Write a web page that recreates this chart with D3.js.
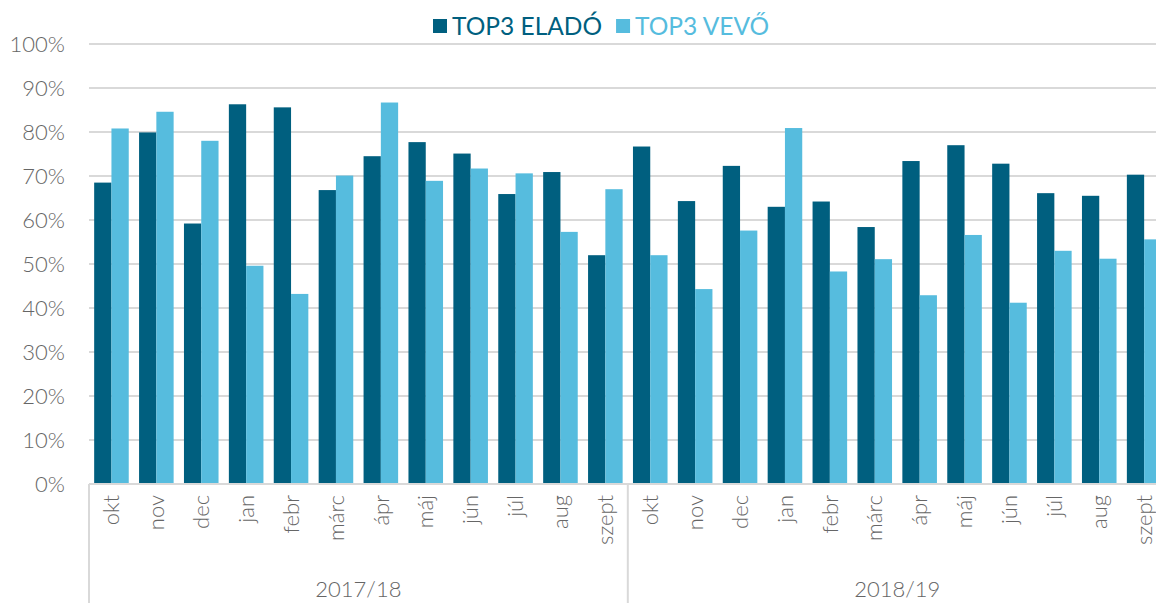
<!DOCTYPE html>
<html>
<head>
<meta charset="utf-8">
<script src="https://cdn.jsdelivr.net/npm/d3@7"></script>
<style>
  body { margin: 0; background: #fff; }
  text { font-family: Lato, 'Open Sans', sans-serif; }
</style>
</head>
<body>
<div id="chart"></div>
<script>
'use strict';

// Data
var months = ['okt', 'nov', 'dec', 'jan', 'febr', 'márc', 'ápr', 'máj', 'jún', 'júl', 'aug', 'szept'];
var years = ['2017/18', '2018/19'];
var seriesNames = ['TOP3 ELADÓ', 'TOP3 VEVŐ'];
var elado = [68.5, 79.9, 59.2, 86.3, 85.6, 66.8, 74.5, 77.7, 75.1, 65.9, 70.9, 52.0,
             76.7, 64.3, 72.3, 63.0, 64.2, 58.4, 73.4, 77.0, 72.8, 66.1, 65.5, 70.3];
var vevo = [80.8, 84.6, 78.0, 49.6, 43.2, 70.1, 86.7, 68.9, 71.7, 70.6, 57.3, 67.0,
            52.0, 44.3, 57.6, 80.9, 48.3, 51.1, 42.9, 56.6, 41.2, 53.0, 51.2, 55.6];
var yTicks = [0, 10, 20, 30, 40, 50, 60, 70, 80, 90, 100];

(function () {
  var width = 1156,
    height = 603,
    colors = ['#005f7f', '#56bcde'],
    plotLeft = 89,
    plotTop = 44,
    plotBottom = 484,
    band = 44.9;

  var cats = [];
  years.forEach(function (yr) {
    months.forEach(function (m) { cats.push(yr + '|' + m); });
  });

  var data = cats.map(function (c, i) {
    return {key: c, month: c.split('|')[1], values: [elado[i], vevo[i]]};
  });

  var x = d3.scaleBand()
    .domain(cats)
    .range([plotLeft, plotLeft + band * cats.length])
    .paddingInner(0.23)
    .paddingOuter(0.115);

  var xSub = d3.scaleBand()
    .domain([0, 1])
    .range([0, x.bandwidth()]);

  var y = d3.scaleLinear()
    .domain([0, 100])
    .range([plotBottom, plotTop]);

  var svg = d3.select('#chart').append('svg')
    .attr('width', width)
    .attr('height', height);

  // Gridlines
  svg.append('g')
    .selectAll('line')
    .data(yTicks.slice(1))
    .enter().append('line')
    .attr('x1', plotLeft)
    .attr('x2', width)
    .attr('y1', function (d) { return y(d); })
    .attr('y2', function (d) { return y(d); })
    .style('stroke', '#d9d9d9')
    .style('stroke-width', 2);

  // Y labels
  svg.append('g')
    .selectAll('text')
    .data(yTicks)
    .enter().append('text')
    .attr('x', 65)
    .attr('y', function (d) { return y(d); })
    .attr('dy', '0.35em')
    .attr('text-anchor', 'end')
    .style('font-size', '22px')
    .style('font-weight', 300)
    .style('fill', '#666')
    .text(function (d) { return d + '%'; });

  // Bars
  var groups = svg.append('g')
    .selectAll('g')
    .data(data)
    .enter().append('g')
    .attr('transform', function (d) { return 'translate(' + x(d.key) + ',0)'; });

  groups.selectAll('rect')
    .data(function (d) { return d.values; })
    .enter().append('rect')
    .attr('x', function (d, i) { return xSub(i); })
    .attr('width', xSub.bandwidth())
    .attr('y', function (d) { return y(d); })
    .attr('height', function (d) { return y(0) - y(d); })
    .style('fill', function (d, i) { return colors[i]; });

  // Category axis
  var step = x.step();
  svg.append('line')
    .attr('x1', plotLeft)
    .attr('x2', width)
    .attr('y1', plotBottom)
    .attr('y2', plotBottom)
    .style('stroke', '#d9d9d9')
    .style('stroke-width', 2);

  var dividers = [0, months.length, cats.length].map(function (i) { return plotLeft + step * i; });
  svg.append('g')
    .selectAll('line')
    .data(dividers)
    .enter().append('line')
    .attr('x1', function (d) { return d; })
    .attr('x2', function (d) { return d; })
    .attr('y1', plotBottom)
    .attr('y2', height)
    .style('stroke', '#d9d9d9')
    .style('stroke-width', 2);

  svg.append('g')
    .selectAll('text')
    .data(data)
    .enter().append('text')
    .attr('transform', function (d) {
      return 'translate(' + (x(d.key) + x.bandwidth() / 2) + ',' + (plotBottom + 11) + ') rotate(-90)';
    })
    .attr('dy', '0.35em')
    .attr('text-anchor', 'end')
    .style('font-size', '22px')
    .style('font-weight', 300)
    .style('fill', '#666')
    .text(function (d) { return d.month; });

  svg.append('g')
    .selectAll('text')
    .data(years)
    .enter().append('text')
    .attr('x', function (d, i) { return plotLeft + step * months.length * (i + 0.5); })
    .attr('y', 597)
    .attr('text-anchor', 'middle')
    .style('font-size', '22px')
    .style('font-weight', 300)
    .style('fill', '#666')
    .text(String);

  // Legend
  var legend = svg.append('g').attr('transform', 'translate(433,26)');
  var lx = 0;
  seriesNames.forEach(function (name, i) {
    var item = legend.append('g').attr('transform', 'translate(' + lx + ',0)');
    item.append('rect')
      .attr('x', 0)
      .attr('y', -7)
      .attr('width', 14)
      .attr('height', 14)
      .style('fill', colors[i]);
    var t = item.append('text')
      .attr('x', 19)
      .attr('dy', '0.36em')
      .style('font-size', '24.5px')
      .style('fill', colors[i])
      .text(name);
    lx += 19 + t.node().getComputedTextLength() + 14;
  });
})();
</script>
</body>
</html>
